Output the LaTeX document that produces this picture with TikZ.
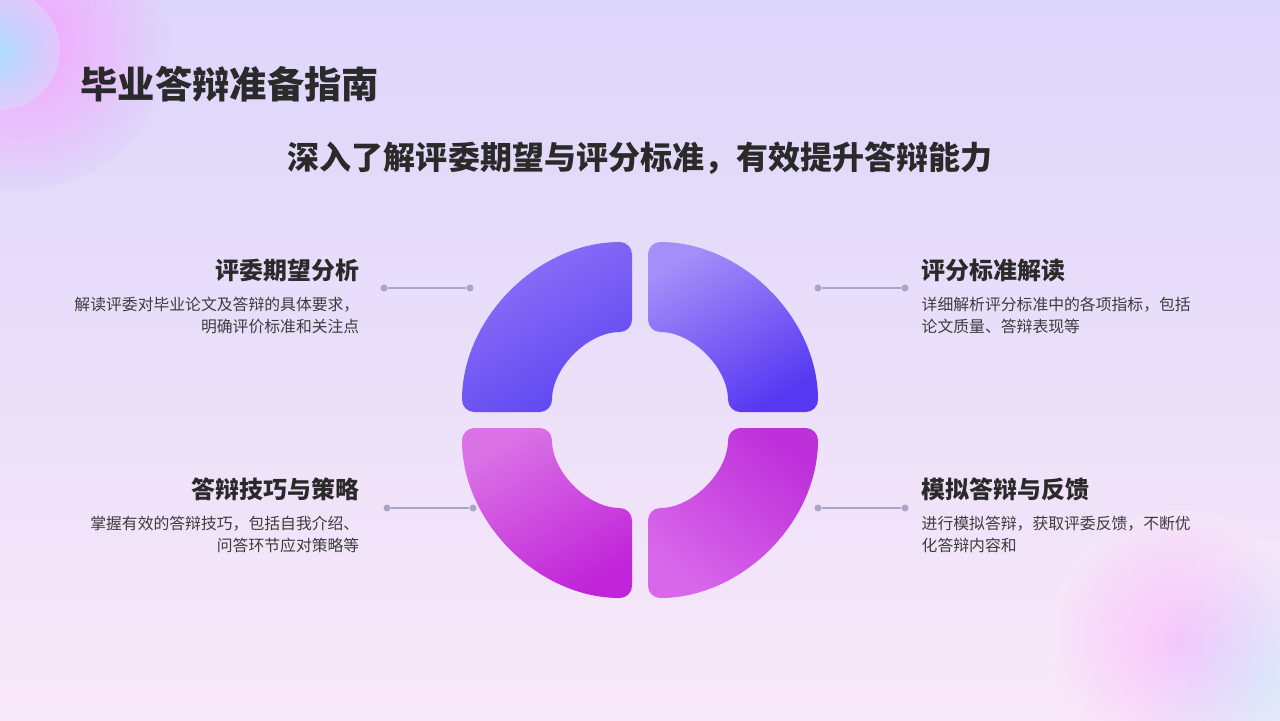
\documentclass[tikz,border=0pt]{standalone}
\usepackage{fontspec}
\setmainfont{Noto Sans CJK SC}
\usetikzlibrary{positioning}
\definecolor{bgtop}{HTML}{DDD6FB}
\definecolor{bgbot}{HTML}{F8E8F8}
\definecolor{txtdark}{HTML}{2A2A2A}
\definecolor{txtgray}{HTML}{3C3C3C}
\definecolor{linegray}{HTML}{A8A6C4}
\definecolor{tlA}{HTML}{8D72F8}\definecolor{tlB}{HTML}{5E46F0}
\definecolor{trA}{HTML}{A48EF8}\definecolor{trB}{HTML}{5638F2}
\definecolor{blA}{HTML}{DA72E6}\definecolor{blB}{HTML}{C024D8}
\definecolor{brA}{HTML}{D868EA}\definecolor{brB}{HTML}{BE30DA}
\tikzset{
	head/.style     = {font=\fontsize{6.8}{7.5}\selectfont\bfseries, text=txtdark, inner sep=0pt},
	desc/.style     = {font=\fontsize{4.5}{6.3}\selectfont, text=txtgray, inner sep=0pt},
	dot/.style      = {circle, fill=linegray, inner sep=0pt, minimum size=2mm*0.35},
	link/.style     = {draw=linegray, line width=0.35pt},
}
\newcommand{\quarter}[6]{% corner, start angle, end angle, light, dark, shading angle
  \shade[top color=#4, bottom color=#5, shading angle=#6, rounded corners=3.5pt]
    ([shift={(#2:170)}]#1) arc[start angle=#2, end angle=#3, radius=170]
    -- ([shift={(#3:80)}]#1) arc[start angle=#3, end angle=#2, radius=80] -- cycle;}
\begin{document}
\begin{tikzpicture}[x=0.01cm, y=-0.01cm]
    %-- background --%
    \shade[top color=bgtop, bottom color=bgbot] (0,0) rectangle (1280,720);
    \useasboundingbox (0,0) rectangle (1280,720);
    \begin{scope}
      \clip (0,0) rectangle (1280,720);
      \shade[inner color=magenta!45, outer color=bgtop, opacity=0.7] (20,40) circle[radius=150];
      \shade[inner color=cyan!50, outer color=bgtop, opacity=0.6] (0,50) circle[radius=60];
      \shade[inner color=cyan!40, outer color=bgbot, opacity=0.6] (1270,680) circle[radius=140];
      \shade[inner color=magenta!35, outer color=bgbot, opacity=0.5] (1180,640) circle[radius=130];
    \end{scope}

    %-- titles --%
    \node[anchor=west, inner sep=0pt, font=\fontsize{10.6}{11}\selectfont\bfseries, text=txtdark] (title) at (80,84) {毕业答辩准备指南};
    \node[inner sep=0pt, font=\fontsize{9.1}{10}\selectfont\bfseries, text=txtdark] (subtitle) at (640,158) {深入了解评委期望与评分标准，有效提升答辩能力};

    %-- ring --%
    \coordinate (ctl) at (632,412);
    \coordinate (ctr) at (648,412);
    \coordinate (cbl) at (632,428);
    \coordinate (cbr) at (648,428);
    \quarter{ctl}{180}{270}{tlA}{tlB}{30}
    \quarter{ctr}{270}{360}{trA}{trB}{30}
    \quarter{cbl}{90}{180}{blA}{blB}{30}
    \quarter{cbr}{0}{90}{brB}{brA}{-40}

    %-- connectors --%
    \node[dot] (ltA) at (384,288) {};  \node[dot] (ltB) at (470,288) {};
    \node[dot] (rtA) at (818,288) {};  \node[dot] (rtB) at (905,288) {};
    \node[dot] (lbA) at (387,508) {};  \node[dot] (lbB) at (473,508) {};
    \node[dot] (rbA) at (818,508) {};  \node[dot] (rbB) at (905,508) {};
    \draw[link] (ltA) -- (ltB);
    \draw[link] (rtA) -- (rtB);
    \draw[link] (lbA) -- (lbB);
    \draw[link] (rbA) -- (rbB);

    %-- texts --%
    \node[head, anchor=east] (h1) at (360,270) {评委期望分析};
    \node[desc, anchor=north east, align=right] (d1) at (360,296) {解读评委对毕业论文及答辩的具体要求，\\明确评价标准和关注点};
    \node[head, anchor=west] (h2) at (921,270) {评分标准解读};
    \node[desc, anchor=north west, align=left] (d2) at (921,296) {详细解析评分标准中的各项指标，包括\\论文质量、答辩表现等};
    \node[head, anchor=east] (h3) at (360,489) {答辩技巧与策略};
    \node[desc, anchor=north east, align=right] (d3) at (360,515) {掌握有效的答辩技巧，包括自我介绍、\\问答环节应对策略等};
    \node[head, anchor=west] (h4) at (921,489) {模拟答辩与反馈};
    \node[desc, anchor=north west, align=left] (d4) at (921,515) {进行模拟答辩，获取评委反馈，不断优\\化答辩内容和};
\end{tikzpicture}
\end{document}
